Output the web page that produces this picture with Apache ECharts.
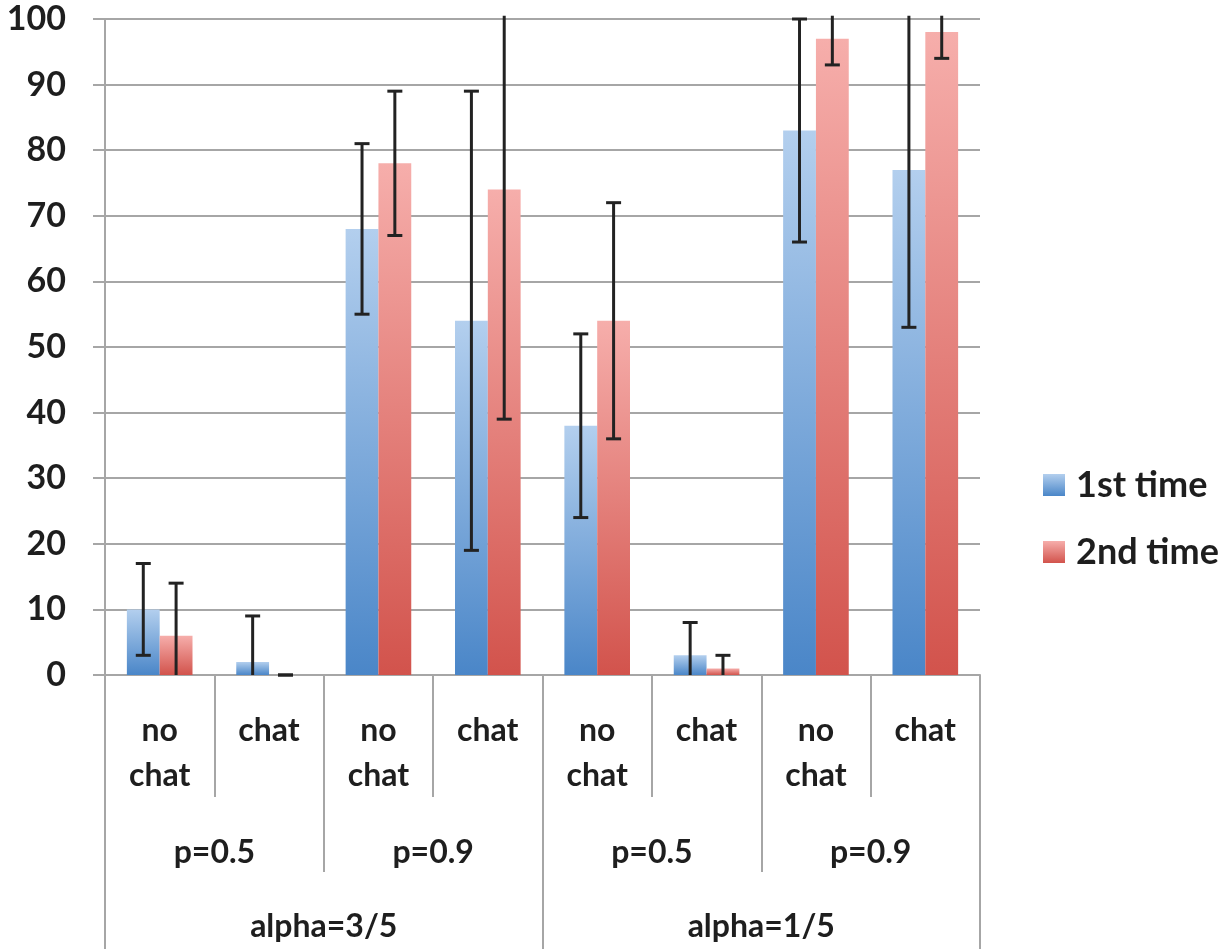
<!DOCTYPE html>
<html>
<head>
<meta charset="utf-8">
<script src="https://cdn.jsdelivr.net/npm/echarts@6/dist/echarts.min.js"></script>
<style>
html,body{margin:0;padding:0;background:#fff;}
#main{width:1223px;height:949px;}
</style>
</head>
<body>
<div id="main"></div>
<script>
// ---- data ----
const chatLabels = ["no\nchat","chat","no\nchat","chat","no\nchat","chat","no\nchat","chat"];
const pLabels = ["p=0.5","p=0.9","p=0.5","p=0.9"];
const alphaLabels = ["alpha=3/5","alpha=1/5"];
const seriesNames = ["1st time","2nd time"];
const firstTime = [10, 2, 68, 54, 38, 3, 83, 77];
const secondTime = [6, 0, 78, 74, 54, 1, 97, 98];
const firstLow  = [3, -5, 55, 19, 24, -2, 66, 53];
const firstHigh = [17, 9, 81, 89, 52, 8, 100, 101];
const secondLow  = [-2, 0, 67, 39, 36, -1, 93, 94];
const secondHigh = [14, 0, 89, 109, 72, 3, 101, 102];
const yTicks = {min: 0, max: 100, interval: 10};

const font = "Lato, 'Open Sans', sans-serif";
const gridColor = "#a6a6a6";
const textColor = "#1e1e1e";
const catGapRatio = 0.4;

function grad(top, bottom){
  return new echarts.graphic.LinearGradient(0,0,0,1,[{offset:0,color:top},{offset:1,color:bottom}]);
}

function errRender(sideSign){
  return function(params, api){
    const idx = api.value(0);
    const lo = api.value(1), hi = api.value(2);
    const band = api.size([1,0])[0];
    const bw = band*(1-catGapRatio)/2;
    const cx = api.coord([idx, 0])[0] + sideSign*bw/2;
    const capHalf = 7.5;
    const loC = Math.max(lo, yTicks.min);
    const hiC = Math.min(hi, yTicks.max + 0.5);
    const yLo = api.coord([idx, loC])[1];
    const yHi = api.coord([idx, hiC])[1];
    const style = {stroke:'#222', lineWidth:3};
    const children = [{type:'line', shape:{x1:cx,y1:yLo,x2:cx,y2:yHi}, style}];
    if (hi <= yTicks.max) children.push({type:'line', shape:{x1:cx-capHalf,y1:yHi,x2:cx+capHalf,y2:yHi}, style});
    if (lo >= yTicks.min) children.push({type:'line', shape:{x1:cx-capHalf,y1:yLo,x2:cx+capHalf,y2:yLo}, style});
    return {type:'group', children};
  };
}

const chart = echarts.init(document.getElementById('main'));
const axisLabelStyle = {fontFamily:font, fontWeight:'bold', fontSize:32, color:textColor, lineHeight:45, interval:0};
chart.setOption({
  backgroundColor:'#fff',
  animation:false,
  grid:{left:105, right:243, top:19, bottom:271, containLabel:false},
  legend:{
    orient:'vertical', left:1043, top:467, padding:0, itemWidth:22, itemHeight:22, itemGap:31,
    icon:'rect',
    data:seriesNames,
    textStyle:{fontFamily:font, fontWeight:'bold', fontSize:36, color:textColor, lineHeight:36, padding:[0,0,0,6]}
  },
  xAxis:[
    {type:'category', data:chatLabels, position:'bottom', axisLine:{onZero:false, lineStyle:{color:gridColor,width:2}},
     axisTick:{show:true, interval:0, length:122, lineStyle:{color:gridColor,width:2}},
     axisLabel:Object.assign({margin:33}, axisLabelStyle)},
    {type:'category', data:pLabels, position:'bottom', axisLine:{show:false, onZero:false},
     axisTick:{show:true, interval:0, length:197, lineStyle:{color:gridColor,width:2}},
     axisLabel:Object.assign({margin:155}, axisLabelStyle)},
    {type:'category', data:alphaLabels, position:'bottom', axisLine:{show:false, onZero:false},
     axisTick:{show:true, interval:0, length:280, lineStyle:{color:gridColor,width:2}},
     axisLabel:Object.assign({margin:229}, axisLabelStyle)}
  ],
  yAxis:{type:'value', min:yTicks.min, max:yTicks.max, interval:yTicks.interval,
    axisLine:{show:true, lineStyle:{color:gridColor,width:2}},
    axisTick:{show:true, length:12, lineStyle:{color:gridColor,width:2}},
    splitLine:{lineStyle:{color:gridColor,width:2}},
    axisLabel:{fontFamily:font, fontWeight:'bold', fontSize:34, color:textColor, margin:39}
  },
  series:[
    {name:seriesNames[0], type:'bar', data:firstTime, barGap:'0%', barCategoryGap:(catGapRatio*100)+'%',
     itemStyle:{color:grad('#b3cfee','#4a86c8')}},
    {name:seriesNames[1], type:'bar', data:secondTime, barGap:'0%', barCategoryGap:(catGapRatio*100)+'%',
     itemStyle:{color:grad('#f6aeab','#d2534c')}},
    {type:'custom', renderItem:errRender(-1), z:5,
     data:firstTime.map((v,i)=>[i, firstLow[i], firstHigh[i]]), encode:{x:0,y:[1,2]}},
    {type:'custom', renderItem:errRender(1), z:5,
     data:secondTime.map((v,i)=>[i, secondLow[i], secondHigh[i]]), encode:{x:0,y:[1,2]}}
  ]
});
</script>
</body>
</html>
